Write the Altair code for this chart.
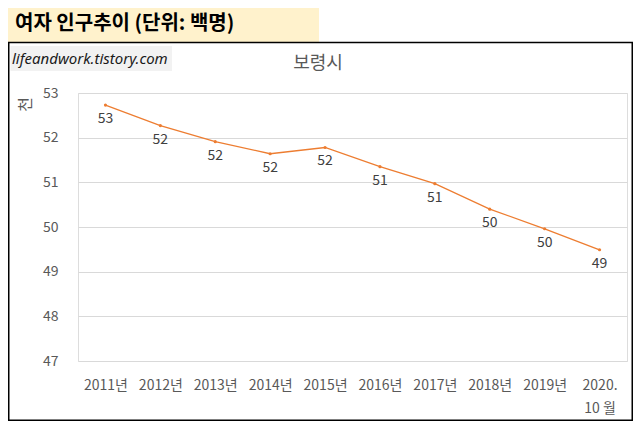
import altair as alt
import pandas as pd

years = ["2011년", "2012년", "2013년", "2014년", "2015년", "2016년", "2017년", "2018년", "2019년", "2020.10월"]
values = [52.73, 52.27, 51.91, 51.64, 51.78, 51.35, 50.97, 50.40, 49.96, 49.49]
y_ticks = [47, 48, 49, 50, 51, 52, 53]

header_text = "여자 인구추이 (단위: 백명)"
chart_title = "보령시"
watermark_text = "lifeandwork.tistory.com"
unit_text = "천"

df = pd.DataFrame({"year": years, "value": values})
one = pd.DataFrame({"k": [0]})

FONT = "Noto Sans CJK KR"
GRAY = "#595959"

x = alt.X(
    "year:N",
    sort=years,
    axis=alt.Axis(
        title="",
        labelExpr="datum.value == '2020.10월' ? ['2020.', '10 월'] : datum.label",
        labelAngle=0,
        labelPadding=17,
        labelFontSize=14,
        labelColor=GRAY,
        labelFont=FONT,
        labelLineHeight=23,
        labelOverlap=False,
        ticks=False,
        domain=False,
        grid=False,
    ),
)
y = alt.Y(
    "value:Q",
    scale=alt.Scale(domain=[47, 53], nice=False, zero=False),
    axis=alt.Axis(
        values=y_ticks,
        format="d",
        title=unit_text,
        titleX=-53,
        titleY=11,
        titleAngle=270,
        titleAlign="center",
        titleBaseline="middle",
        titleFontSize=16,
        titleFontWeight="normal",
        titleColor=GRAY,
        titleFont=FONT,
        labelPadding=20,
        labelFontSize=14,
        labelColor=GRAY,
        labelFont=FONT,
        ticks=False,
        domain=False,
        gridColor="#D9D9D9",
        gridWidth=1,
    ),
)

base = alt.Chart(df)
line = base.mark_line(color="#ED7D31", strokeWidth=1.3).encode(x=x, y=y)
pts = base.mark_point(filled=True, color="#ED7D31", size=10, opacity=1).encode(x=x, y=y)
labels = base.mark_text(dy=14, fontSize=14, color="#404040", baseline="middle", font=FONT).encode(
    x=x, y=y, text=alt.Text("value:Q", format=".0f")
)

deco = alt.Chart(one)
header_bg = deco.mark_rect(color="#FFF2CC").encode(
    x=alt.value(-70), x2=alt.value(241), y=alt.value(-85), y2=alt.value(-51)
)
border = deco.mark_rect(fill="transparent", stroke="#000000", strokeWidth=1.5).encode(
    x=alt.value(-69.25), x2=alt.value(554.25), y=alt.value(-50.5), y2=alt.value(327.25)
)
wm_bg = deco.mark_rect(color="#F2F2F2").encode(
    x=alt.value(-67.5), x2=alt.value(94), y=alt.value(-47), y2=alt.value(-22)
)
wm = deco.mark_text(
    text=watermark_text, align="left", baseline="middle", fontStyle="italic",
    fontSize=15, font="Noto Sans", color="#1a1a1a"
).encode(x=alt.value(-66), y=alt.value(-34))
title_txt = deco.mark_text(
    text=chart_title, fontSize=18, color=GRAY, baseline="middle", font=FONT
).encode(x=alt.value(240), y=alt.value(-29.5))
header_txt = deco.mark_text(
    text=header_text, fontSize=20, fontWeight="bold", color="#000000",
    align="left", baseline="middle", font=FONT
).encode(x=alt.value(-63), y=alt.value(-69))

chart = alt.layer(
    header_bg, border, wm_bg, wm, title_txt, header_txt, line, pts, labels
).properties(
    width=549,
    height=268,
    autosize=alt.AutoSizeParams(type="none"),
    padding={"left": 70, "top": 85, "right": 6, "bottom": 60},
    background="white",
).configure_view(strokeWidth=0).configure(font=FONT)

chart.save("out.html", embed_options={"renderer": "svg", "actions": False})
